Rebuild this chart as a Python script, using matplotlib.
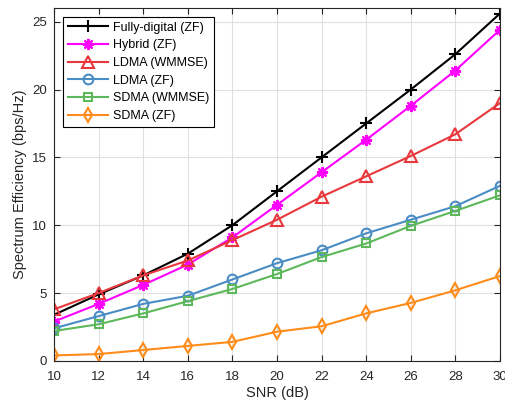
import numpy as np
import matplotlib
matplotlib.use('Agg')
import matplotlib.pyplot as plt

plt.rcParams['font.family'] = ['Liberation Sans', 'DejaVu Sans']

snr = [10, 12, 14, 16, 18, 20, 22, 24, 26, 28, 30]
fully_digital = [3.4, 4.9, 6.3, 7.9, 10.0, 12.5, 15.0, 17.5, 20.0, 22.6, 25.6]
hybrid = [2.9, 4.2, 5.6, 7.1, 9.1, 11.5, 13.9, 16.3, 18.8, 21.4, 24.4]
ldma_wmmse = [3.8, 5.0, 6.3, 7.4, 8.9, 10.4, 12.1, 13.6, 15.1, 16.7, 19.0]
ldma_zf = [2.4, 3.3, 4.2, 4.8, 6.0, 7.2, 8.15, 9.4, 10.4, 11.4, 12.9]
sdma_wmmse = [2.2, 2.7, 3.5, 4.4, 5.3, 6.4, 7.65, 8.65, 9.95, 11.05, 12.2]
sdma_zf = [0.4, 0.5, 0.8, 1.1, 1.4, 2.15, 2.55, 3.5, 4.27, 5.2, 6.25]

series = [
    ('Fully-digital (ZF)', fully_digital, 'black', '+', 8),
    ('Hybrid (ZF)', hybrid, '#FF00FF', (8, 2, 0), 8),
    ('LDMA (WMMSE)', ldma_wmmse, '#E8383D', '^', 8),
    ('LDMA (ZF)', ldma_zf, '#4A8CC4', 'o', 7),
    ('SDMA (WMMSE)', sdma_wmmse, '#5DB85B', 's', 6),
    ('SDMA (ZF)', sdma_zf, '#FF8C1A', 'd', 7),
]

fig = plt.figure(figsize=(5.06, 4.05), dpi=100)
ax = fig.add_axes([0.107, 0.109, 0.881, 0.871])

for label, vals, color, marker, ms in series:
    ax.plot(snr, vals, color=color, marker=marker, markersize=ms, linewidth=1.5,
            markerfacecolor='none', markeredgecolor=color, markeredgewidth=1.5,
            label=label)

ax.set_xlim(10, 30)
ax.set_ylim(0, 26)
ax.set_xticks(np.arange(10, 31, 2))
ax.set_yticks([0, 5, 10, 15, 20, 25])
ax.grid(True, color='#E0E0E0', linewidth=0.8)
ax.set_axisbelow(True)
ax.tick_params(direction='in', top=True, right=True, labelsize=9.5, colors='#262626', length=4)
ax.tick_params(axis='x', pad=7.5)
ax.tick_params(axis='y', pad=5)
for s in ax.spines.values():
    s.set_color('#262626')
    s.set_linewidth(0.8)
ax.set_xlabel('SNR (dB)', fontsize=10.5, color='#262626', labelpad=2)
ax.set_ylabel('Spectrum Efficiency (bps/Hz)', fontsize=10.5, color='#262626', labelpad=4)

leg = ax.legend(loc='upper left', fontsize=9, fancybox=False, framealpha=1,
                edgecolor='black', borderpad=0.4, labelspacing=0.45, handlelength=3.2,
                handletextpad=0.4, borderaxespad=0.7)
leg.get_frame().set_linewidth(0.8)

fig.savefig('out.png', dpi=100)
